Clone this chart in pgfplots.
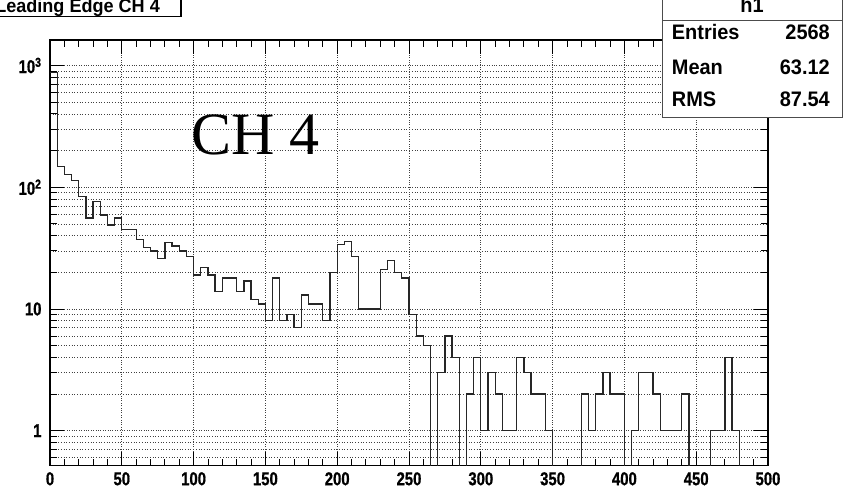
\documentclass[border=0pt]{standalone}
\usepackage{fontspec}
\usepackage{pgfplots}
\pgfplotsset{compat=1.18}
\newfontfamily\rootfont{Liberation Sans}[FakeStretch=0.8,BoldFeatures={FakeBold=0.8}]
\newfontfamily\boxfont{Liberation Sans}[FakeStretch=0.95]
\newfontfamily\timesfont{Liberation Serif}

% bin contents of h1, 100 bins of width 5 (left edge, count); empty bins at 0.1
\begin{document}
\begin{tikzpicture}
\useasboundingbox (0pt,0pt) rectangle (850pt,492pt);
\clip (0pt,0pt) rectangle (850pt,492pt);
\begin{axis}[
    at={(50pt,26.3pt)},anchor=south west,
    scale only axis,width=718pt,height=425.7pt,
    xmin=0,xmax=500,
    ymode=log,ymin=0.516,ymax=1620,
    xtick={0,50,...,500},minor x tick num=4,
    ytick={1,10,100,1000},
    yticklabels={1,10,10\textsuperscript{2},10\textsuperscript{3}},
    minor ytick={0.6,0.7,0.8,0.9,2,3,4,5,6,7,8,9,20,30,40,50,60,70,80,90,200,300,400,500,600,700,800,900},
    tick align=inside,
    major tick length=14pt,minor tick length=7pt,
    every tick/.style={black,line width=0.9pt},
    axis line style={line width=1.4pt},
    xmajorgrids,ymajorgrids,yminorgrids,
    grid style={dotted,black!75,line width=0.7pt},
    minor grid style={dotted,black!75,line width=0.7pt},
    /pgf/number format/assume math mode=true,
    ticklabel style={font=\fontsize{18.6}{20}\rootfont\bfseries},
    xticklabel style={yshift=-3pt},
    yticklabel style={xshift=-5pt},
]
\addplot[const plot,black!85,line width=1.3pt] coordinates {
(0,880) (5,148) (10,128) (15,113) (20,84) (25,56) (30,76) (35,59) (40,49) (45,56)
(50,45) (55,45) (60,37) (65,32) (70,30) (75,26) (80,35) (85,33) (90,30) (95,27)
(100,19) (105,22) (110,19) (115,14) (120,18) (125,18) (130,14) (135,17) (140,12) (145,11)
(150,8) (155,18) (160,8) (165,9) (170,7) (175,13) (180,11) (185,11) (190,8) (195,20)
(200,34) (205,36) (210,27) (215,10) (220,10) (225,10) (230,21) (235,25) (240,20) (245,18)
(250,9) (255,6) (260,5) (265,0.1) (270,3) (275,6) (280,4) (285,0.1) (290,2) (295,4)
(300,1) (305,3) (310,2) (315,1) (320,1) (325,4) (330,3) (335,2) (340,2) (345,1)
(350,0.1) (355,0.1) (360,0.1) (365,0.1) (370,2) (375,1) (380,2) (385,3) (390,2) (395,2)
(400,0.1) (405,1) (410,3) (415,3) (420,2) (425,1) (430,1) (435,1) (440,2) (445,0.1)
(450,0.1) (455,0.1) (460,1) (465,1) (470,4) (475,1) (480,0.1) (485,0.1) (490,0.1) (495,0.1)
(500,0.1)
};
\end{axis}
\begin{scope}[x=1pt,y=1pt]
% title box
\draw[fill=white,line width=1.2pt] (-10,475.3) rectangle (181,500);
\node[anchor=base east,inner sep=0pt,font=\fontsize{19}{20}\boxfont\bfseries] at (160,479.3) {Leading Edge CH 4};
% stats box
\draw[fill=white,draw=black!70,line width=1pt] (662,374) rectangle (842,500);
\draw[black!70,line width=1pt] (662,471.3) -- (842,471.3);
\begin{scope}[every node/.style={inner sep=0pt,font=\fontsize{21}{22}\boxfont\bfseries}]
\node[anchor=base] at (752,479) {h1};
\node[anchor=base west] at (671.7,452.7) {Entries};
\node[anchor=base east] at (830,452.7) {2568};
\node[anchor=base west] at (671.7,417) {Mean};
\node[anchor=base east] at (830,417) {63.12};
\node[anchor=base west] at (671.7,385.3) {RMS};
\node[anchor=base east] at (830,385.3) {87.54};
\end{scope}
\node[anchor=base west,inner sep=0pt,font=\fontsize{60}{62}\timesfont] at (191,337) {CH 4};
\end{scope}
\end{tikzpicture}
\end{document}
